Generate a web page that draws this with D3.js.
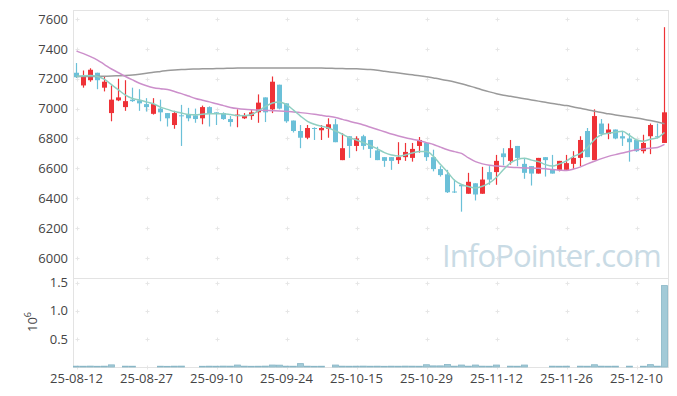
<!DOCTYPE html>
<html>
<head>
<meta charset="utf-8">
<script src="https://cdn.jsdelivr.net/npm/d3@7/dist/d3.min.js"></script>
<style>
  body { margin: 0; background: #fff; }
  svg text { font-family: "Open Sans", "Noto Sans", sans-serif; }
</style>
</head>
<body>
<svg id="chart" width="677" height="396"></svg>
<script>
// trading days, 25-08-12 .. 25-12-16
const dates = [
  '25-08-12','25-08-13','25-08-14','25-08-18','25-08-19','25-08-20','25-08-21','25-08-22','25-08-25','25-08-26',
  '25-08-27','25-08-28','25-08-29','25-09-01','25-09-02','25-09-03','25-09-04','25-09-05','25-09-08','25-09-09',
  '25-09-10','25-09-11','25-09-12','25-09-15','25-09-16','25-09-17','25-09-18','25-09-19','25-09-22','25-09-23',
  '25-09-24','25-09-25','25-09-26','25-09-29','25-09-30','25-10-01','25-10-02','25-10-10','25-10-13','25-10-14',
  '25-10-15','25-10-16','25-10-17','25-10-20','25-10-21','25-10-22','25-10-23','25-10-24','25-10-27','25-10-28',
  '25-10-29','25-10-30','25-10-31','25-11-03','25-11-04','25-11-05','25-11-06','25-11-07','25-11-10','25-11-11',
  '25-11-12','25-11-13','25-11-14','25-11-17','25-11-18','25-11-19','25-11-20','25-11-21','25-11-24','25-11-25',
  '25-11-26','25-11-27','25-11-28','25-12-01','25-12-02','25-12-03','25-12-04','25-12-05','25-12-08','25-12-09',
  '25-12-10','25-12-11','25-12-12','25-12-15','25-12-16'
];

const open = [
  7240,7155,7190,7240,7140,6970,7055,7010,7060,7055,
  7030,6965,7000,6970,6890,6955,6960,6955,6935,7010,
  6975,6970,6930,6950,6935,6950,6975,7075,6995,7160,
  7035,6920,6850,6805,6870,6855,6865,6895,6655,6815,
  6750,6815,6790,6720,6675,6675,6655,6675,6670,6750,
  6770,6675,6595,6560,6445,6490,6430,6500,6430,6575,
  6575,6700,6650,6750,6630,6615,6565,6675,6590,6590,
  6590,6630,6670,6850,6655,6900,6830,6860,6815,6800,
  6790,6715,6815,6815,6770
];
const high = [
  7305,7255,7270,7240,7215,7155,7200,7190,7140,7130,
  7070,7070,7060,6970,6985,7025,7005,7000,7020,7015,
  6975,6975,6950,6995,6970,6995,7095,7075,7215,7160,
  7035,6920,6890,6890,6875,6890,6935,6930,6835,6815,
  6815,6825,6790,6745,6675,6675,6775,6770,6770,6810,
  6770,6725,6615,6590,6525,6490,6570,6500,6610,6615,
  6690,6735,6790,6750,6670,6615,6670,6675,6690,6650,
  6690,6715,6815,6870,6995,6930,6900,6860,6850,6835,
  6790,6825,6900,6900,7545
];
const low = [
  7205,7140,7180,7130,7115,6915,7050,6985,7045,6985,
  6980,6960,6915,6880,6865,6750,6915,6905,6895,6880,
  6890,6925,6880,6875,6930,6925,6905,6910,6970,6995,
  6905,6840,6735,6795,6790,6790,6805,6775,6655,6670,
  6715,6725,6670,6655,6610,6590,6630,6650,6645,6705,
  6650,6580,6545,6435,6435,6310,6430,6385,6430,6490,
  6490,6620,6625,6615,6530,6485,6565,6545,6565,6580,
  6590,6595,6615,6675,6655,6815,6795,6795,6750,6645,
  6710,6700,6695,6800,6770
];
const close = [
  7210,7215,7260,7190,7180,7060,7075,7050,7050,7035,
  7010,7030,6975,6935,6970,6950,6935,6930,7010,6965,
  6965,6930,6910,6960,6950,6975,7040,6975,7180,7000,
  6915,6850,6805,6870,6865,6870,6895,6775,6735,6750,
  6800,6750,6730,6655,6650,6650,6675,6710,6730,6790,
  6675,6595,6555,6440,6440,6480,6510,6425,6525,6525,
  6650,6675,6735,6670,6570,6565,6670,6655,6565,6650,
  6635,6670,6790,6675,6950,6830,6860,6800,6800,6775,
  6715,6770,6890,6810,6975
];
const volume = [
  15000,14000,16000,13000,15000,38000,4000,15000,14000,4000,
  3000,5000,14000,12000,15000,16000,5000,4000,13000,15000,
  14000,16000,15000,35000,15000,13000,14000,16000,35000,33000,
  15000,14000,60000,15000,13000,14000,4000,35000,15000,14000,
  15000,16000,14000,15000,13000,15000,14000,16000,15000,14000,
  40000,20000,20000,45000,15000,35000,15000,35000,15000,14000,
  35000,4000,15000,14000,35000,4000,3000,4000,15000,14000,
  15000,4000,15000,14000,40000,15000,14000,15000,4000,15000,
  4000,14000,42000,15000,1445000
];
// moving averages as drawn (5, 20 and long-term)
const ma5 = [
  7216,7220,7222,7215,7195,7160,7125,7090,7068,7058,
  7045,7032,7010,6995,6980,6970,6960,6958,6962,6965,
  6965,6966,6960,6953,6952,6960,6985,7015,7037,7044,
  7026,6990,6950,6915,6895,6882,6870,6850,6828,6805,
  6790,6772,6752,6730,6705,6690,6682,6690,6703,6712,
  6712,6680,6625,6575,6520,6492,6478,6469,6480,6502,
  6540,6592,6636,6660,6668,6655,6645,6625,6615,6630,
  6650,6680,6700,6740,6792,6826,6835,6842,6848,6820,
  6790,6782,6795,6805,6840
];
const ma20 = [
  7385,7368,7348,7325,7295,7265,7240,7215,7192,7170,
  7153,7140,7133,7128,7115,7100,7084,7068,7056,7045,
  7032,7020,7008,7000,6995,6992,6990,6988,6986,6984,
  6981,6978,6973,6968,6962,6955,6948,6940,6928,6915,
  6903,6890,6875,6860,6845,6830,6817,6805,6795,6785,
  6772,6760,6742,6725,6712,6700,6670,6645,6630,6620,
  6615,6612,6608,6605,6603,6602,6600,6598,6592,6588,
  6585,6595,6610,6630,6648,6665,6680,6692,6703,6715,
  6725,6730,6735,6740,6760
];
const maLong = [
  7215,7215,7215,7216,7217,7218,7220,7222,7225,7230,
  7236,7243,7249,7255,7259,7262,7264,7265,7266,7267,
  7268,7269,7270,7271,7271,7272,7272,7272,7272,7272,
  7272,7272,7272,7272,7271,7271,7270,7269,7268,7267,
  7266,7264,7261,7256,7250,7244,7238,7232,7226,7220,
  7213,7205,7197,7188,7178,7166,7153,7140,7125,7112,
  7100,7090,7082,7074,7066,7058,7050,7042,7034,7027,
  7020,7011,7002,6992,6982,6974,6965,6957,6950,6944,
  6937,6929,6920,6910,6899
];
const priceTicks = [6000, 6200, 6400, 6600, 6800, 7000, 7200, 7400, 7600];
const volumeTicks = [500000, 1000000, 1500000];
const dateTicks = [0, 10, 20, 30, 40, 50, 60, 70, 80];

const svg = d3.select('#chart');
const plotLeft = 73, plotRight = 668, plotTop = 10, plotSplit = 278, plotBottom = 367;

const xScale = d3.scaleBand().domain(d3.range(dates.length)).range([plotLeft, plotRight]);
const cx = i => xScale(i) + xScale.bandwidth() / 2;
const yPrice = d3.scaleLinear().domain([5866, 7660]).range([plotSplit, plotTop]);
const yVol = d3.scaleLinear().domain([0, 1580000]).range([plotBottom, plotSplit]);

// grid crosses
const crossColor = '#e6e6e6';
function crosses(yVals, yScale) {
  dateTicks.forEach(i => {
    yVals.forEach(v => {
      const px = Math.round(cx(i)) + 0.5, py = Math.round(yScale(v)) + 0.5;
      svg.append('path')
        .attr('d', `M${px - 2},${py}H${px + 2}M${px},${py - 2}V${py + 2}`)
        .attr('stroke', crossColor).attr('stroke-width', 1);
    });
  });
}
crosses(priceTicks, yPrice);
crosses(volumeTicks.concat([0]), yVol);

// frame
svg.append('rect')
  .attr('x', plotLeft + 0.5).attr('y', plotTop + 0.5)
  .attr('width', plotRight - plotLeft).attr('height', plotBottom - plotTop)
  .attr('fill', 'none').attr('stroke', '#e3e3e3');
svg.append('line')
  .attr('x1', plotLeft).attr('x2', plotRight)
  .attr('y1', plotSplit + 0.5).attr('y2', plotSplit + 0.5)
  .attr('stroke', '#e3e3e3');

// watermark
svg.append('text')
  .attr('x', 442).attr('y', 267)
  .attr('font-size', 31)
  .attr('letter-spacing', -0.9)
  .attr('fill', '#c9dbe5')
  .text('InfoPointer.com');

// axes
const yAxis = svg.append('g')
  .attr('transform', 'translate(' + plotLeft + ',0)')
  .call(d3.axisLeft(yPrice).tickValues(priceTicks).tickSize(0).tickPadding(5)
    .tickFormat(d3.format('d')));
const vAxis = svg.append('g')
  .attr('transform', 'translate(' + plotLeft + ',0)')
  .call(d3.axisLeft(yVol).tickValues(volumeTicks).tickSize(0).tickPadding(5)
    .tickFormat(d => (d / 1e6).toFixed(1)));
const xAxis = svg.append('g')
  .attr('transform', 'translate(0,' + plotBottom + ')')
  .call(d3.axisBottom(xScale).tickValues(dateTicks).tickSize(0).tickPadding(7)
    .tickFormat(i => dates[i]));
[yAxis, vAxis, xAxis].forEach(g => {
  g.select('.domain').remove();
  g.selectAll('text').attr('font-size', 13).attr('fill', '#444')
    .style('font-family', '"Open Sans", "Noto Sans", sans-serif');
});

// 10^6 axis title
const vTitle = svg.append('text')
  .attr('transform', 'translate(37,322) rotate(-90)')
  .attr('text-anchor', 'middle')
  .attr('font-size', 13).attr('fill', '#444');
vTitle.append('tspan').text('10');
vTitle.append('tspan').attr('dy', -6).attr('font-size', 9).text('6');

// volume bars
svg.append('g').selectAll('rect')
  .data(volume.map((v, i) => ({ v, i })).filter(d => yVol(0) - yVol(d.v) >= 0.5))
  .enter().append('rect')
  .attr('x', d => xScale(d.i) + 0.5)
  .attr('width', xScale.bandwidth() - 1)
  .attr('y', d => yVol(d.v))
  .attr('height', d => yVol(0) - yVol(d.v))
  .attr('fill', '#a3cad7')
  .attr('stroke', '#88b6c6').attr('stroke-width', 0.8);

// candles
const up = '#ee3237', down = '#6bc0d8';
const candles = svg.append('g').selectAll('g')
  .data(d3.range(dates.length))
  .enter().append('g');
candles.append('line')
  .attr('x1', i => cx(i)).attr('x2', i => cx(i))
  .attr('y1', i => yPrice(high[i])).attr('y2', i => yPrice(low[i]))
  .attr('stroke', i => close[i] >= open[i] ? up : down)
  .attr('stroke-width', 1.2);
candles.append('rect')
  .attr('x', i => cx(i) - 2.5)
  .attr('width', 5)
  .attr('y', i => yPrice(Math.max(open[i], close[i])))
  .attr('height', i => Math.max(1, Math.abs(yPrice(open[i]) - yPrice(close[i]))))
  .attr('fill', i => close[i] >= open[i] ? up : down);

// moving averages
const line = d3.line().x((d, i) => cx(i)).y(d => yPrice(d)).curve(d3.curveMonotoneX);
[[maLong, '#9a9a9a'], [ma20, '#cc8fcb'], [ma5, '#8fcfc1']].forEach(([data, color]) => {
  svg.append('path')
    .attr('d', line(data))
    .attr('fill', 'none')
    .attr('stroke', color)
    .attr('stroke-width', 1.5);
});
</script>
</body>
</html>
